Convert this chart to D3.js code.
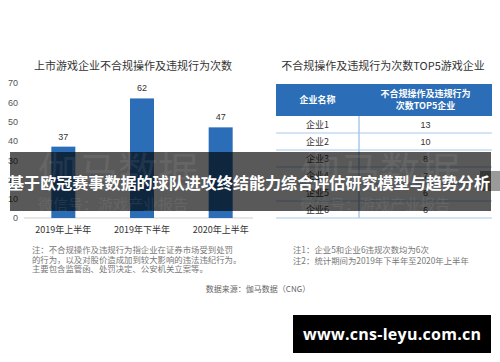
<!DOCTYPE html>
<html>
<head>
<meta charset="utf-8">
<script src="https://cdn.jsdelivr.net/npm/d3@7"></script>
<style>
  body { margin: 0; background: #fff; }
  svg { display: block; font-family: "Noto Sans CJK SC", "Noto Sans", sans-serif; }
</style>
</head>
<body>
<div id="chart"></div>
<script>
// chart data
const periods = ['2019年上半年', '2019年下半年', '2020年上半年'];
const counts = [37, 62, 47];
const yTicks = [0, 10, 20, 30, 40, 50, 60, 70];

const companies = ['企业1', '企业2', '企业3', '企业4', '企业5', '企业6'];
const companyCounts = [13, 10, 8, 7, 6, 6];

const leftNotes = [
    '注：不合规操作及违规行为指企业在证券市场受到处罚',
    '的行为，以及对股价造成加到较大影响的违法违纪行为。',
    '主要包含监管函、处罚决定、公安机关立案等。'
];
const rightNotes = [
    '注1：企业5和企业6违规次数均为6次',
    '注2：统计期间为2019年下半年至2020年上半年'
];

const W = 500, H = 362;
const blue = '#2b6db6';
const lineBlue = '#a9c9ea';

const svg = d3.select('#chart').append('svg')
    .attr('width', W)
    .attr('height', H);

// ---- left bar chart
svg.append('text')
    .attr('x', 133).attr('y', 70)
    .attr('text-anchor', 'middle')
    .style('font-size', '11px')
    .style('fill', '#333')
    .text('上市游戏企业不合规操作及违规行为次数');

const xScale = d3.scaleBand()
    .domain(periods)
    .range([24, 260]);

const yScale = d3.scaleLinear()
    .domain([0, 70])
    .range([218, 83]);

const yAxis = svg.append('g')
    .attr('transform', 'translate(18,0)')
    .call(d3.axisLeft(yScale).tickValues(yTicks).tickSize(0).tickPadding(0));
yAxis.select('.domain').remove();
yAxis.selectAll('text')
    .style('font-size', '9px')
    .style('fill', '#555')
    .style('font-family', 'Liberation Sans, Arial, sans-serif');

svg.append('line')
    .attr('x1', 24).attr('x2', 253)
    .attr('y1', yScale(0)).attr('y2', yScale(0))
    .style('stroke', '#cfcfcf');

const barW = 24;
svg.selectAll('.bar')
    .data(periods)
    .enter().append('rect')
    .attr('class', 'bar')
    .attr('x', d => xScale(d) + xScale.bandwidth() / 2 - barW / 2)
    .attr('y', (d, i) => yScale(counts[i]))
    .attr('width', barW)
    .attr('height', (d, i) => yScale(0) - yScale(counts[i]))
    .style('fill', blue);

svg.selectAll('.barlabel')
    .data(periods)
    .enter().append('text')
    .attr('x', d => xScale(d) + xScale.bandwidth() / 2)
    .attr('y', (d, i) => yScale(counts[i]) - 7)
    .attr('text-anchor', 'middle')
    .style('font-size', '9px')
    .style('fill', '#333')
    .style('font-family', 'Liberation Sans, Arial, sans-serif')
    .text((d, i) => counts[i]);

svg.selectAll('.xlabel')
    .data(periods)
    .enter().append('text')
    .attr('x', d => xScale(d) + xScale.bandwidth() / 2)
    .attr('y', 233)
    .attr('text-anchor', 'middle')
    .style('font-size', '9px')
    .style('fill', '#333')
    .text(d => d);

svg.selectAll('.lnote')
    .data(leftNotes)
    .enter().append('text')
    .attr('x', 32)
    .attr('y', (d, i) => 253 + i * 9.7)
    .style('font-size', '8.4px')
    .style('fill', '#777')
    .text(d => d);

// ---- right table
svg.append('text')
    .attr('x', 383).attr('y', 70)
    .attr('text-anchor', 'middle')
    .style('font-size', '11px')
    .style('fill', '#333')
    .text('不合规操作及违规行为次数TOP5游戏企业');

const tx0 = 276, tx1 = 492, divX = 359;
svg.append('rect')
    .attr('x', tx0).attr('y', 84)
    .attr('width', tx1 - tx0).attr('height', 32)
    .style('fill', blue);

const headStyle = sel => sel
    .attr('text-anchor', 'middle')
    .style('font-size', '9px')
    .style('font-weight', 'bold')
    .style('fill', '#fff');

svg.append('text').attr('x', (tx0 + divX) / 2).attr('y', 103)
    .call(headStyle).text('企业名称');
svg.append('text').attr('x', (divX + tx1) / 2).attr('y', 97)
    .call(headStyle).text('不合规操作及违规行为');
svg.append('text').attr('x', (divX + tx1) / 2).attr('y', 109)
    .call(headStyle).text('次数TOP5企业');

const rowScale = d3.scaleBand()
    .domain(companies)
    .range([116, 218]);

svg.selectAll('.rowline')
    .data(companies)
    .enter().append('line')
    .attr('x1', tx0).attr('x2', tx1)
    .attr('y1', d => rowScale(d) + rowScale.bandwidth())
    .attr('y2', d => rowScale(d) + rowScale.bandwidth())
    .style('stroke', lineBlue)
    .style('stroke-width', 1.2);

svg.append('line')
    .attr('x1', divX).attr('x2', divX)
    .attr('y1', 116).attr('y2', 218)
    .style('stroke', lineBlue)
    .style('stroke-width', 1.5);

svg.selectAll('.cname')
    .data(companies)
    .enter().append('text')
    .attr('x', (tx0 + divX) / 2)
    .attr('y', d => rowScale(d) + rowScale.bandwidth() / 2 + 3.5)
    .attr('text-anchor', 'middle')
    .style('font-size', '9px')
    .style('fill', '#333')
    .text(d => d);

svg.selectAll('.cval')
    .data(companies)
    .enter().append('text')
    .attr('x', (divX + tx1) / 2)
    .attr('y', d => rowScale(d) + rowScale.bandwidth() / 2 + 3.5)
    .attr('text-anchor', 'middle')
    .style('font-size', '9px')
    .style('fill', '#333')
    .style('font-family', 'Liberation Sans, Arial, sans-serif')
    .text((d, i) => companyCounts[i]);

svg.selectAll('.rnote')
    .data(rightNotes)
    .enter().append('text')
    .attr('x', 293)
    .attr('y', (d, i) => 253 + i * 11)
    .style('font-size', '8.4px')
    .style('fill', '#777')
    .text(d => d);

svg.append('text')
    .attr('x', 258).attr('y', 292)
    .attr('text-anchor', 'middle')
    .style('font-size', '8px')
    .style('fill', '#666')
    .text('数据来源：伽马数据（CNG）');

// ---- overlay banner
svg.append('rect')
    .attr('x', 480).attr('y', 171)
    .attr('width', 20).attr('height', 20)
    .style('fill', '#9a9a9a');

svg.append('rect')
    .attr('x', 10).attr('y', 152)
    .attr('width', 481).attr('height', 59)
    .style('fill', 'rgba(0,0,0,0.65)');

// watermarks
[38, 300].forEach(x => {
    svg.append('text')
        .attr('x', x).attr('y', 186)
        .style('font-size', '40px')
        .style('fill', '#fff')
        .style('opacity', 0.07)
        .text('伽马数据');
    svg.append('text')
        .attr('x', x).attr('y', 210)
        .style('font-size', '15px')
        .style('fill', '#fff')
        .style('opacity', 0.07)
        .text('微信号：游戏产业报告');
});

svg.append('text')
    .attr('x', 8).attr('y', 189)
    .attr('textLength', 482)
    .attr('lengthAdjust', 'spacingAndGlyphs')
    .style('font-size', '16px')
    .style('font-weight', 'bold')
    .style('fill', '#fff')
    .text('基于欧冠赛事数据的球队进攻终结能力综合评估研究模型与趋势分析');

// ---- site box
svg.append('rect')
    .attr('x', 293).attr('y', 315)
    .attr('width', 198).attr('height', 38)
    .style('fill', '#000');
svg.append('text')
    .attr('x', 392).attr('y', 340)
    .attr('text-anchor', 'middle')
    .attr('textLength', 178)
    .style('font-size', '16px')
    .style('font-weight', 'bold')
    .style('fill', '#fff')
    .style('font-family', '"Open Sans", "DejaVu Sans", sans-serif')
    .text('www.cns-leyu.com.cn');
</script>
</body>
</html>
